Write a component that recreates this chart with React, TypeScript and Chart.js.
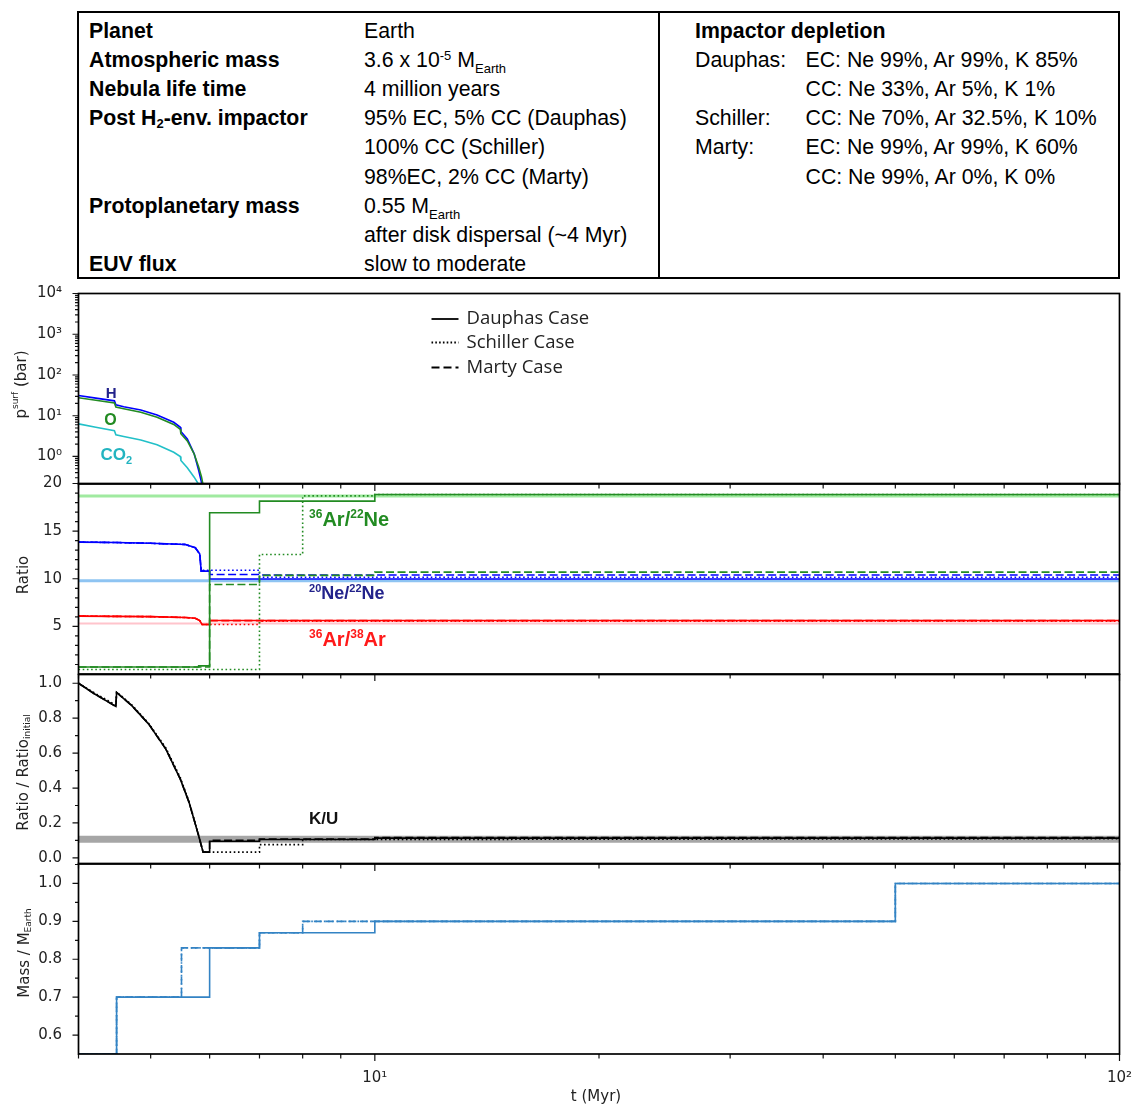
import React, { useEffect, useRef } from 'react';
import { Chart, registerables } from 'chart.js';

Chart.register(...registerables);

// ---------------- Data ----------------
// time axis (Myr)
const T_MIN = 4;
const T_MAX = 100;
const timeTicks = [10, 100];
const timeTickLabels = ['10¹', '10²'];

// Panel 1: surface pressures (bar)
const tH = [4.0, 4.22, 4.47, 4.49, 4.6, 4.85, 5.1, 5.37, 5.48, 5.49, 5.6, 5.72, 5.8, 5.85, 5.86];
const pH = [31.3, 27.0, 23.2, 18.5, 16.6, 13.8, 10.4, 6.9, 5.2, 4.1, 2.7, 1.16, 0.46, 0.236, 0.01];
const tO = [4.0, 4.22, 4.47, 4.49, 4.6, 4.85, 5.1, 5.37, 5.48, 5.49, 5.6, 5.72, 5.8, 5.85, 5.88, 5.885];
const pO = [27.5, 24.0, 20.5, 16.3, 14.8, 12.2, 9.2, 6.1, 4.6, 3.6, 2.4, 1.15, 0.55, 0.32, 0.2, 0.01];
const tCO2 = [4.0, 4.22, 4.47, 4.49, 4.6, 4.85, 5.1, 5.37, 5.48, 5.49, 5.6, 5.72, 5.79, 5.8];
const pCO2 = [6.3, 5.2, 4.3, 3.4, 3.1, 2.55, 1.93, 1.27, 1.0, 0.8, 0.53, 0.31, 0.216, 0.01];
const pressureTicks = [1, 10, 100, 1000, 10000];
const pressureTickLabels = ['10⁰', '10¹', '10²', '10³', '10⁴'];

// Panel 2: isotope ratios
const refArNe = 18.7;
const refNeNe = 9.8;
const refArAr = 5.31;
// 36Ar/22Ne (stepped)
const tArNeD = [4, 5.8, 6, 7, 10, 100];
const vArNeD = [0.73, 0.85, 16.93, 18.15, 18.85, 18.85];
const tArNeS = [4, 7, 8, 10, 100];
const vArNeS = [0.48, 12.55, 18.7, 18.85, 18.85];
const tArNeM = [4, 6, 7, 10, 100];
const vArNeM = [0.73, 9.4, 10.35, 10.7, 10.7];
// 20Ne/22Ne
const tNeD = [4, 4.5, 5.0, 5.57, 5.74, 5.82, 5.845, 6.0, 6.0, 100];
const vNeD = [13.85, 13.8, 13.72, 13.6, 13.25, 12.6, 10.8, 10.8, 9.97, 9.97];
const tNeS = [4, 4.5, 5.0, 5.57, 5.74, 5.82, 5.845, 7.0, 7.0, 100];
const vNeS = [13.85, 13.8, 13.72, 13.6, 13.25, 12.6, 10.9, 10.9, 10.15, 10.15];
const tNeM = [4, 4.5, 5.0, 5.57, 5.74, 5.82, 5.845, 6.0, 6.0, 7.0, 7.0, 100];
const vNeM = [13.85, 13.8, 13.72, 13.6, 13.25, 12.6, 10.8, 10.8, 10.45, 10.45, 10.4, 10.4];
// 36Ar/38Ar
const tArArD = [4, 5.0, 5.57, 5.74, 5.82, 5.86, 6.0, 6.0, 100];
const vArArD = [6.08, 6.02, 5.93, 5.85, 5.6, 5.2, 5.2, 5.62, 5.62];
const tArArS = [4, 5.0, 5.57, 5.74, 5.82, 5.86, 7.0, 7.0, 100];
const vArArS = [6.08, 6.02, 5.93, 5.85, 5.6, 5.2, 5.2, 5.55, 5.55];
const tArArM = [4, 5.0, 5.57, 5.74, 5.82, 5.86, 6.0, 6.0, 100];
const vArArM = [6.08, 6.02, 5.93, 5.85, 5.6, 5.2, 5.2, 5.6, 5.6];
const ratioTicks = [5, 10, 15, 20];
const ratioTickLabels = ['5', '10', '15', '20'];

// Panel 3: K/U relative to initial
const tKUD = [4.0, 4.2, 4.49, 4.5, 4.72, 4.97, 5.24, 5.48, 5.63, 5.8, 5.88, 6.0, 6.0, 7.0, 7.0, 10.0, 10.0, 100];
const vKUD = [1.0, 0.94, 0.867, 0.947, 0.87, 0.766, 0.623, 0.451, 0.318, 0.127, 0.033, 0.033, 0.095, 0.095, 0.105, 0.105, 0.113, 0.113];
const tKUS = [4.0, 4.2, 4.49, 4.5, 4.72, 4.97, 5.24, 5.48, 5.63, 5.8, 5.88, 7.0, 7.0, 8.0, 8.0, 100];
const vKUS = [1.0, 0.945, 0.875, 0.95, 0.875, 0.77, 0.63, 0.46, 0.322, 0.13, 0.033, 0.033, 0.076, 0.076, 0.105, 0.11];
const tKUM = [4.0, 4.2, 4.49, 4.5, 4.72, 4.97, 5.24, 5.48, 5.63, 5.8, 5.88, 6.0, 6.0, 7.0, 7.0, 10.0, 10.0, 100];
const vKUM = [1.0, 0.94, 0.867, 0.947, 0.87, 0.766, 0.623, 0.451, 0.318, 0.127, 0.033, 0.033, 0.1, 0.1, 0.108, 0.108, 0.116, 0.116];
const kuBandLow = 0.086;
const kuBandHigh = 0.127;
const kuTicks = [0, 0.2, 0.4, 0.6, 0.8, 1.0];
const kuTickLabels = ['0.0', '0.2', '0.4', '0.6', '0.8', '1.0'];

// Panel 4: planet mass (stepped)
const tMassD = [4, 4.5, 6, 7, 10, 50, 100];
const vMassD = [0.55, 0.7, 0.83, 0.87, 0.9, 1.0, 1.0];
const tMassS = [4, 4.5, 5.5, 7, 8, 50, 100];
const vMassS = [0.55, 0.7, 0.83, 0.87, 0.9, 1.0, 1.0];
const tMassM = [4, 4.5, 5.5, 7, 8, 50, 100];
const vMassM = [0.55, 0.7, 0.83, 0.87, 0.9, 1.0, 1.0];
const massTicks = [0.6, 0.7, 0.8, 0.9, 1.0];
const massTickLabels = ['0.6', '0.7', '0.8', '0.9', '1.0'];

// Legend
const legendLabels = ['Dauphas Case', 'Schiller Case', 'Marty Case'];

// Table
const tableLabels = ['Planet', 'Atmospheric mass', 'Nebula life time', 'Post H|2|-env. impactor', '', '', 'Protoplanetary mass', '', 'EUV flux'];
const tableValues = ['Earth', '3.6 x 10^-5^ M_Earth_', '4 million years', '95% EC, 5% CC (Dauphas)', '100% CC (Schiller)', '98%EC, 2% CC (Marty)', '0.55 M_Earth_', 'after disk dispersal (~4 Myr)', 'slow to moderate'];
const depletionTitle = 'Impactor depletion';
const depletionNames = ['Dauphas:', '', 'Schiller:', 'Marty:', ''];
const depletionValues = ['EC: Ne 99%, Ar 99%, K 85%', 'CC: Ne 33%, Ar 5%, K 1%', 'CC: Ne 70%, Ar 32.5%, K 10%', 'EC: Ne 99%, Ar 99%, K 60%', 'CC: Ne 99%, Ar 0%, K 0%'];

// ---------------- Layout / style ----------------
const W = 1137;
const CANVAS_W = 1200;
const PLOT_L = 78.5;
const PLOT_R = 1119.5;
const TICK_FONT = 'DejaVu Sans';
const SANS = '"Liberation Sans", Arial, sans-serif';
const GREEN = '#228b22';
const BLUE = '#0000ff';
const RED = '#ff0000';
const MASS = '#3383c4';
const DOT = [1.6, 2.6];
const DASH = [8, 3.5];

type Seg = { t: string; k?: 'sup' | 'sub' };

function drawRich(ctx: CanvasRenderingContext2D, segs: Seg[], x: number, y: number, size: number, family: string, weight: string, color: string, align: 'left' | 'center', rotate = false, baseline: CanvasTextBaseline = 'alphabetic') {
  ctx.save();
  ctx.translate(x, y);
  if (rotate) ctx.rotate(-Math.PI / 2);
  const f = (s: Seg) => `${weight} ${s.k ? Math.round(size * 0.62) : size}px ${family}`;
  let total = 0;
  for (const s of segs) { ctx.font = f(s); total += ctx.measureText(s.t).width; }
  let cx = align === 'center' ? -total / 2 : 0;
  ctx.fillStyle = color;
  ctx.textBaseline = baseline;
  ctx.textAlign = 'left';
  for (const s of segs) {
    ctx.font = f(s);
    const dy = s.k === 'sup' ? -size * 0.4 : s.k === 'sub' ? size * 0.22 : 0;
    ctx.fillText(s.t, cx, dy);
    cx += ctx.measureText(s.t).width;
  }
  ctx.restore();
}

const line = (ts: number[], vs: number[], color: string, extra: any = {}) => ({
  data: ts.map((t, i) => ({ x: t, y: vs[i] })),
  borderColor: color,
  backgroundColor: color,
  borderWidth: 1.6,
  pointRadius: 0,
  fill: false,
  tension: 0,
  ...extra,
});

type Label = { segs: Seg[]; t: number; v: number; size: number; color: string };

type PanelSpec = {
  key: string;
  top: number;
  bottom: number;
  yType: 'linear' | 'logarithmic';
  yMin: number;
  yMax: number;
  yTicks: number[];
  yTickLabels: string[];
  yMinor: number[];
  datasets: any[];
  title: Seg[];
  titlePos: [number, number];
  labels: Label[];
  legend?: boolean;
  last?: boolean;
};

const range = (a: number, b: number, s: number) => { const r: number[] = []; for (let v = a; v <= b + 1e-9; v += s) r.push(+v.toFixed(4)); return r; };
const logMinor = (() => { const r: number[] = []; for (let e = -1; e <= 3; e++) for (let k = 2; k <= 9; k++) r.push(k * Math.pow(10, e)); return r; })();
const xMinor = [4, 5, 6, 7, 8, 9, 20, 30, 40, 50, 60, 70, 80, 90];

const panels: PanelSpec[] = [
  {
    key: 'p', top: 293, bottom: 483.5, yType: 'logarithmic', yMin: 0.211, yMax: 10000,
    yTicks: pressureTicks, yTickLabels: pressureTickLabels, yMinor: logMinor,
    datasets: [
      line(tO, pO, GREEN),
      line(tH, pH, BLUE),
      line(tCO2, pCO2, '#22c0c8'),
    ],
    title: [{ t: 'p' }, { t: 'surf', k: 'sup' }, { t: ' (bar)' }], titlePos: [22, 384],
    labels: [
      { segs: [{ t: 'H' }], t: 4.35, v: 27.6, size: 15, color: '#22228b' },
      { segs: [{ t: 'O' }], t: 4.33, v: 6.0, size: 16, color: GREEN },
      { segs: [{ t: 'CO' }, { t: '2', k: 'sub' }], t: 4.28, v: 0.8, size: 17, color: '#23b4c0' },
    ],
    legend: true,
  },
  {
    key: 'r', top: 483.5, bottom: 674, yType: 'linear', yMin: 0, yMax: 20,
    yTicks: ratioTicks, yTickLabels: ratioTickLabels, yMinor: range(1, 20, 1),
    datasets: [
      line(tArNeD, vArNeD, GREEN, { stepped: 'before' }),
      line(tArNeS, vArNeS, GREEN, { stepped: 'before', borderDash: DOT }),
      line(tArNeM, vArNeM, GREEN, { stepped: 'before', borderDash: DASH }),
      line(tNeD, vNeD, BLUE),
      line(tNeS, vNeS, BLUE, { borderDash: DOT }),
      line(tNeM, vNeM, BLUE, { borderDash: DASH }),
      line(tArArD, vArArD, RED),
      line(tArArS, vArArS, RED, { borderDash: DOT }),
      line(tArArM, vArArM, RED, { borderDash: DASH }),
      line([T_MIN, T_MAX], [refArNe, refArNe], '#a0eaa0', { borderWidth: 3 }),
      line([T_MIN, T_MAX], [refNeNe, refNeNe], '#8ec4f2', { borderWidth: 3 }),
      line([T_MIN, T_MAX], [refArAr, refArAr], '#ffc4cc', { borderWidth: 2 }),
    ],
    title: [{ t: 'Ratio' }], titlePos: [24, 575],
    labels: [
      { segs: [{ t: '36', k: 'sup' }, { t: 'Ar/' }, { t: '22', k: 'sup' }, { t: 'Ne' }], t: 8.16, v: 15.5, size: 20, color: GREEN },
      { segs: [{ t: '20', k: 'sup' }, { t: 'Ne/' }, { t: '22', k: 'sup' }, { t: 'Ne' }], t: 8.16, v: 7.83, size: 18, color: '#22228b' },
      { segs: [{ t: '36', k: 'sup' }, { t: 'Ar/' }, { t: '38', k: 'sup' }, { t: 'Ar' }], t: 8.16, v: 2.94, size: 20, color: '#ff1a1a' },
    ],
  },
  {
    key: 'k', top: 674, bottom: 863.5, yType: 'linear', yMin: -0.035, yMax: 1.05,
    yTicks: kuTicks, yTickLabels: kuTickLabels, yMinor: range(0.1, 0.9, 0.2),
    datasets: [
      line(tKUD, vKUD, '#000000'),
      line(tKUS, vKUS, '#000000', { borderDash: DOT }),
      line(tKUM, vKUM, '#000000', { borderDash: DASH }),
      line([T_MIN, T_MAX], [kuBandHigh, kuBandHigh], '#a6a6a6', { borderWidth: 0, fill: { value: kuBandLow }, backgroundColor: '#a6a6a6' }),
    ],
    title: [{ t: 'Ratio / Ratio' }, { t: 'initial', k: 'sub' }], titlePos: [24, 772],
    labels: [
      { segs: [{ t: 'K/U' }], t: 8.16, v: 0.195, size: 17, color: '#111111' },
    ],
  },
  {
    key: 'm', top: 863.5, bottom: 1054, yType: 'linear', yMin: 0.55, yMax: 1.0526,
    yTicks: massTicks, yTickLabels: massTickLabels, yMinor: range(0.65, 1.05, 0.1),
    datasets: [
      line(tMassD, vMassD, MASS, { stepped: 'before' }),
      line(tMassS, vMassS, MASS, { stepped: 'before', borderDash: DOT }),
      line(tMassM, vMassM, MASS, { stepped: 'before', borderDash: DASH }),
    ],
    title: [{ t: 'Mass / M' }, { t: 'Earth', k: 'sub' }], titlePos: [25, 953],
    labels: [],
    last: true,
  },
];

function makePlugin(spec: PanelSpec) {
  return {
    id: 'frame_' + spec.key,
    afterDatasetsDraw(chart: any) {
      const { ctx, scales } = chart;
      const xs = scales.x, ys = scales.y;
      for (const l of spec.labels) {
        drawRich(ctx, l.segs, xs.getPixelForValue(l.t), ys.getPixelForValue(l.v), l.size, SANS, 'bold', l.color, 'left');
      }
    },
    afterDraw(chart: any) {
      const { ctx, chartArea: a, scales } = chart;
      const xs = scales.x, ys = scales.y;
      // page -> canvas coords (chart area top-left sits at PLOT_L, spec.top on the page)
      const py = (y: number) => y - spec.top + a.top;
      const px = (x: number) => x - PLOT_L + a.left;
      ctx.save();
      ctx.strokeStyle = '#111';
      ctx.lineWidth = 1.2;
      ctx.beginPath();
      for (const t of xMinor) { const xx = xs.getPixelForValue(t); ctx.moveTo(xx, a.bottom); ctx.lineTo(xx, a.bottom + 4.5); }
      for (const t of timeTicks) { const xx = xs.getPixelForValue(t); ctx.moveTo(xx, a.bottom); ctx.lineTo(xx, a.bottom + 7); }
      for (const v of spec.yMinor) { if (v < spec.yMin || v > spec.yMax) continue; const yy = ys.getPixelForValue(v); ctx.moveTo(a.left, yy); ctx.lineTo(a.left - 3.5, yy); }
      for (const v of spec.yTicks) { const yy = ys.getPixelForValue(v); ctx.moveTo(a.left, yy); ctx.lineTo(a.left - 6, yy); }
      ctx.stroke();
      ctx.lineWidth = 1.7;
      ctx.strokeStyle = '#000';
      ctx.strokeRect(a.left, a.top, a.right - a.left, a.bottom - a.top);
      drawRich(ctx, spec.title, px(spec.titlePos[0]), py(spec.titlePos[1]), 15, TICK_FONT, 'normal', '#222', 'center', true, 'middle');
      if (spec.last) {
        ctx.font = `15px ${TICK_FONT}`;
        ctx.fillStyle = '#222';
        ctx.textAlign = 'center';
        ctx.textBaseline = 'middle';
        ctx.fillText('t (Myr)', px(596), py(1097));
      }
      if (spec.legend) {
        const styles = [[], [1.6, 2.2], [8, 4]];
        const ys0 = [318.5, 342, 367];
        for (let i = 0; i < legendLabels.length; i++) {
          const yy = py(ys0[i]);
          ctx.save();
          ctx.strokeStyle = '#000';
          ctx.lineWidth = 1.8;
          ctx.setLineDash(styles[i]);
          ctx.beginPath();
          ctx.moveTo(px(431.5), yy);
          ctx.lineTo(px(458.5), yy);
          ctx.stroke();
          ctx.restore();
          ctx.font = '18.5px "Open Sans"';
          ctx.fillStyle = '#222';
          ctx.textAlign = 'left';
          ctx.textBaseline = 'middle';
          ctx.fillText(legendLabels[i], px(466.5), yy);
        }
      }
      ctx.restore();
    },
  };
}

function Panel({ spec }: { spec: PanelSpec }) {
  const ref = useRef<HTMLCanvasElement | null>(null);
  const panelH = spec.bottom - spec.top;
  const panelW = PLOT_R - PLOT_L;
  const canvasH = Math.ceil(panelH) + (spec.last ? 140 : 90);
  const X_AXIS_H = 45;
  useEffect(() => {
    const canvas = ref.current!;
    let pad = { left: 0, right: CANVAS_W - PLOT_R, top: 14, bottom: 30 };
    const chart = new Chart(canvas, {
      type: 'line',
      data: { datasets: spec.datasets },
      options: {
        animation: false,
        responsive: false,
        maintainAspectRatio: false,
        events: [],
        layout: { padding: pad },
        plugins: { legend: { display: false }, tooltip: { enabled: false } },
        scales: {
          x: {
            type: 'logarithmic',
            min: T_MIN,
            max: T_MAX,
            display: !!spec.last,
            afterFit: (s: any) => { if (spec.last) s.height = X_AXIS_H; },
            afterBuildTicks: (s: any) => { s.ticks = timeTicks.map((v) => ({ value: v })); },
            grid: { display: false, drawTicks: false },
            border: { display: false },
            ticks: {
              autoSkip: false,
              maxRotation: 0,
              padding: 15,
              color: '#222',
              font: { family: TICK_FONT, size: 15 },
              callback: (_v: any, i: number) => timeTickLabels[i],
            },
          },
          y: {
            type: spec.yType,
            min: spec.yMin,
            max: spec.yMax,
            afterFit: (s: any) => { s.width = PLOT_L; },
            afterBuildTicks: (s: any) => { s.ticks = spec.yTicks.map((v) => ({ value: v })); },
            grid: { display: false, drawTicks: false },
            border: { display: false },
            ticks: {
              autoSkip: false,
              padding: 16.5,
              color: '#222',
              font: { family: TICK_FONT, size: 15 },
              callback: (_v: any, i: number) => spec.yTickLabels[i],
            },
          },
        },
      } as any,
      plugins: [makePlugin(spec)],
    });
    // fit the plot area exactly to the panel rectangle
    for (let i = 0; i < 8; i++) {
      const a = chart.chartArea;
      const errH = (a.bottom - a.top) - panelH;
      const errW = (a.right - a.left) - panelW;
      if (Math.abs(errH) < 0.02 && Math.abs(errW) < 0.02) break;
      pad = { ...pad, bottom: pad.bottom + errH, right: pad.right + errW };
      (chart.options as any).layout.padding = pad;
      chart.update();
    }
    canvas.style.top = `${spec.top - chart.chartArea.top}px`;
    canvas.style.left = `${PLOT_L - chart.chartArea.left}px`;
    return () => chart.destroy();
  }, []);
  return (
    <canvas
      ref={ref}
      width={CANVAS_W}
      height={canvasH}
      style={{ position: 'absolute', left: 0, top: spec.top - 14, width: CANVAS_W, height: canvasH }}
    />
  );
}

// renders "a^sup^ b_sub_ c|sub|" markup for the table
function Rich({ text, bold }: { text: string; bold?: boolean }) {
  const parts: React.ReactNode[] = [];
  const re = /\^([^^]+)\^|_([^_]+)_|\|([^|]+)\|/g;
  let last = 0;
  let m: RegExpExecArray | null;
  let k = 0;
  while ((m = re.exec(text))) {
    if (m.index > last) parts.push(<span key={k++}>{text.slice(last, m.index)}</span>);
    if (m[1]) parts.push(<span key={k++} style={{ fontSize: 13, position: 'relative', top: -7 }}>{m[1]}</span>);
    if (m[2]) parts.push(<span key={k++} style={{ fontSize: 13, position: 'relative', top: 6 }}>{m[2]}</span>);
    if (m[3]) parts.push(<span key={k++} style={{ fontSize: 13, position: 'relative', top: 3 }}>{m[3]}</span>);
    last = re.lastIndex;
  }
  if (last < text.length) parts.push(<span key={k++}>{text.slice(last)}</span>);
  return <span style={{ fontWeight: bold ? 'bold' : 'normal' }}>{parts}</span>;
}

function Table() {
  const rowY = (i: number) => 30.8 + 29.15 * i - 12;
  const txt: React.CSSProperties = { position: 'absolute', fontFamily: SANS, fontSize: 21.3, lineHeight: '24px', color: '#000', whiteSpace: 'nowrap' };
  return (
    <>
      <div style={{ position: 'absolute', left: 77, top: 11, width: 1043, height: 268, border: '2px solid #000', boxSizing: 'border-box' }} />
      <div style={{ position: 'absolute', left: 658, top: 11, width: 2, height: 268, background: '#000' }} />
      {tableLabels.map((l, i) => l ? (
        <div key={'l' + i} style={{ ...txt, left: 89, top: rowY(i) }}><Rich text={l} bold /></div>
      ) : null)}
      {tableValues.map((v, i) => (
        <div key={'v' + i} style={{ ...txt, left: 364, top: rowY(i) }}><Rich text={v} /></div>
      ))}
      <div style={{ ...txt, left: 695, top: rowY(0) }}><Rich text={depletionTitle} bold /></div>
      {depletionNames.map((n, i) => n ? (
        <div key={'n' + i} style={{ ...txt, left: 695, top: rowY(i + 1) }}>{n}</div>
      ) : null)}
      {depletionValues.map((v, i) => (
        <div key={'d' + i} style={{ ...txt, left: 805.5, top: rowY(i + 1) }}>{v}</div>
      ))}
    </>
  );
}

export default function App() {
  return (
    <div style={{ position: 'absolute', left: 0, top: 0, width: W, height: 1106, overflow: 'hidden', background: '#fff' }}>
      <Table />
      {panels.map((p) => <Panel key={p.key} spec={p} />)}
    </div>
  );
}
